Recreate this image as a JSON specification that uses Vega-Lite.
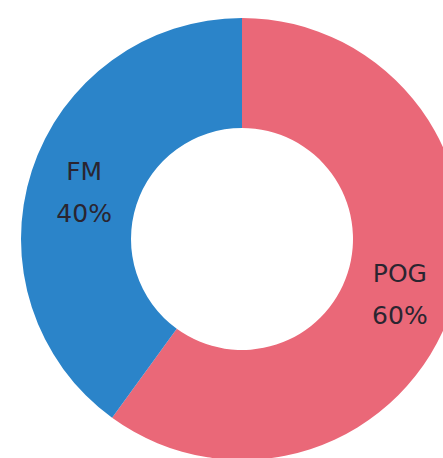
{
  "$schema": "https://vega.github.io/schema/vega-lite/v6.json",
  "width": 402,
  "height": 438,
  "autosize": "none",
  "padding": {"left": 41, "top": 20, "right": 0, "bottom": 0},
  "background": "white",
  "view": {"stroke": null},
  "data": {
    "values": [
      {"category": "POG", "value": 60, "label": "POG\n60%"},
      {"category": "FM", "value": 40, "label": "FM\n40%"}
    ]
  },
  "encoding": {
    "theta": {"field": "value", "type": "quantitative", "stack": true},
    "order": {"field": "value", "type": "quantitative", "sort": "descending"}
  },
  "layer": [
    {
      "mark": {"type": "arc", "outerRadius": 221, "innerRadius": 111},
      "encoding": {
        "color": {
          "field": "category",
          "type": "nominal",
          "scale": {"domain": ["POG", "FM"], "range": ["#ea6878", "#2b84c9"]},
          "legend": null
        }
      }
    },
    {
      "mark": {
        "type": "text",
        "radius": 166,
        "dy": -16,
        "font": "DejaVu Sans",
        "fontSize": 25,
        "lineBreak": "\n",
        "lineHeight": 42,
        "align": "center",
        "baseline": "middle",
        "fill": "#2a2530"
      },
      "encoding": {
        "text": {"field": "label", "type": "nominal"}
      }
    }
  ]
}
